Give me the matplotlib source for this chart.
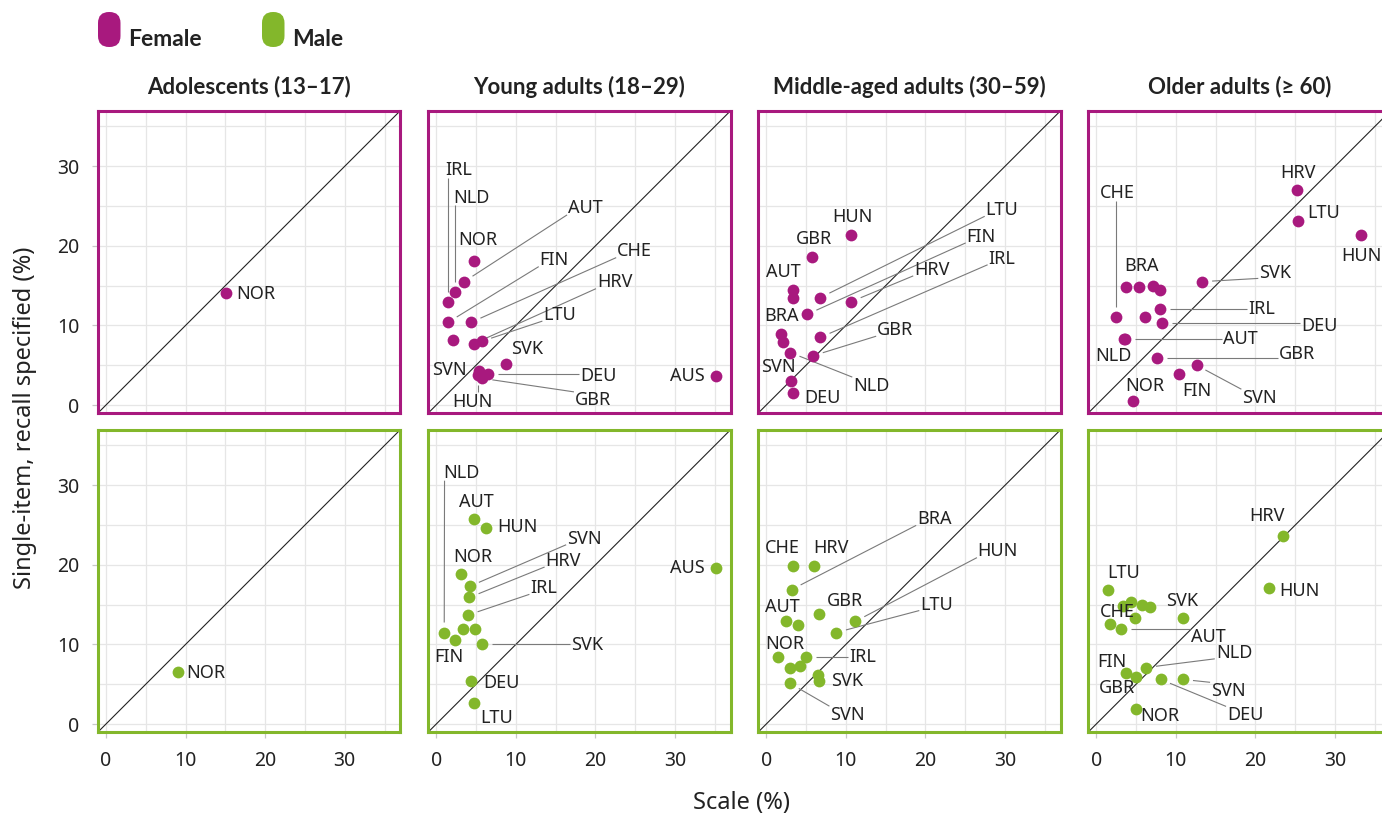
import matplotlib
matplotlib.use('Agg')
import matplotlib.pyplot as plt
from matplotlib.patches import FancyBboxPatch
import numpy as np

plt.rcParams['font.family'] = ['Noto Sans', 'DejaVu Sans']
BOLD_FAMILY = ['Lato', 'DejaVu Sans']

FEMALE = '#A8197E'
MALE = '#83B72B'
TEXT = '#222222'

GROUP_TITLES = ['Adolescents (13\u201317)', 'Young adults (18\u201329)',
                'Middle-aged adults (30\u201359)', 'Older adults (\u2265 60)']

# ---- data: scale (%) vs single-item recall specified (%) ----
# '' = point drawn without a label
f_ado_code = ['NOR']
f_ado_scale = [15.1]
f_ado_single = [14.1]

m_ado_code = ['NOR']
m_ado_scale = [9.0]
m_ado_single = [6.6]

f_ya_code = ['NOR', 'AUT', 'NLD', 'IRL', 'FIN', 'CHE', '', 'HRV', 'LTU', 'SVK',
             'SVN', 'HUN', 'DEU', 'GBR', 'AUS']
f_ya_scale = [4.7, 3.5, 2.4, 1.5, 1.5, 4.4, 2.1, 4.7, 5.7, 8.8,
              5.4, 5.2, 6.5, 5.8, 35.1]
f_ya_single = [18.1, 15.5, 14.2, 13.0, 10.4, 10.4, 8.2, 7.7, 8.0, 5.2,
               4.3, 3.8, 3.9, 3.35, 3.6]

m_ya_code = ['AUT', 'HUN', 'NOR', 'SVN', 'HRV', 'IRL', 'NLD', '', '', 'FIN',
             'SVK', 'DEU', 'LTU', 'AUS']
m_ya_scale = [4.7, 6.3, 3.1, 4.2, 4.15, 4.0, 1.0, 3.3, 4.85, 2.3,
              5.7, 4.4, 4.7, 35.1]
m_ya_single = [25.75, 24.6, 18.9, 17.3, 15.9, 13.7, 11.5, 11.9, 11.9, 10.55,
               10.1, 5.4, 2.7, 19.65]

f_ma_code = ['HUN', 'GBR', 'AUT', 'BRA', 'LTU', 'HRV', 'FIN', 'IRL', '', '',
             'NLD', 'GBR', 'SVN', 'DEU']
f_ma_scale = [10.6, 5.8, 3.4, 3.3, 6.8, 10.7, 5.15, 6.8, 1.85, 2.15,
              3.0, 5.9, 3.1, 3.3]
f_ma_single = [21.3, 18.6, 14.5, 13.5, 13.5, 13.0, 11.4, 8.5, 8.9, 7.9,
               6.6, 6.2, 3.0, 1.5]

m_ma_code = ['CHE', 'HRV', 'BRA', 'GBR', 'HUN', 'AUT', '', 'LTU', 'NOR', 'IRL',
             '', '', '', 'SVK', 'SVN']
m_ma_scale = [3.4, 6.0, 3.2, 6.6, 11.2, 2.5, 4.0, 8.8, 1.5, 4.95,
              3.0, 4.3, 6.5, 6.65, 3.0]
m_ma_single = [19.85, 19.85, 16.9, 13.8, 12.9, 13.0, 12.5, 11.5, 8.45, 8.45,
               7.0, 7.3, 6.2, 5.45, 5.1]

f_old_code = ['HRV', 'LTU', 'HUN', 'SVK', 'BRA', '', '', '', 'IRL', 'CHE',
              '', 'DEU', 'AUT', 'NLD', 'GBR', 'SVN', 'FIN', 'NOR']
f_old_scale = [25.2, 25.4, 33.2, 13.3, 5.4, 3.7, 7.1, 8.0, 8.0, 2.5,
               6.1, 8.3, 3.6, 3.5, 7.6, 12.6, 10.4, 4.65]
f_old_single = [27.0, 23.1, 21.3, 15.5, 14.8, 14.8, 15.0, 14.5, 12.1, 11.1,
                11.0, 10.3, 8.25, 8.3, 5.9, 5.0, 3.85, 0.5]

m_old_code = ['HRV', 'HUN', 'LTU', '', '', '', '', '', 'SVK', 'CHE',
              'AUT', 'NLD', 'FIN', 'GBR', 'DEU', 'SVN', 'NOR']
m_old_scale = [23.4, 21.7, 1.5, 3.4, 4.35, 5.8, 6.75, 4.85, 10.9, 1.7,
               3.1, 6.25, 3.7, 4.95, 8.1, 10.9, 4.95]
m_old_single = [23.6, 17.05, 16.9, 14.8, 15.3, 14.95, 14.65, 13.3, 13.3, 12.55,
                11.9, 7.1, 6.45, 5.95, 5.6, 5.6, 1.9]

# ---- label placement (repelled positions, leader line yes/no) ----
f_ado_lab = [(18.8, 13.9, False)]
m_ado_lab = [(12.6, 6.4, False)]
f_ya_lab = [(5.2, 20.7, False), (18.7, 24.7, True), (4.45, 26.0, True),
            (2.8, 29.5, True), (14.8, 18.2, True), (24.9, 19.3, True), None,
            (22.4, 15.4, True), (15.5, 11.3, True), (11.4, 7.1, False),
            (1.6, 4.4, False), (4.6, 0.4, True), (20.4, 3.6, True),
            (19.7, 0.6, True), (31.5, 3.6, False)]
m_ya_lab = [(5.1, 27.9, False), (10.2, 24.8, False), (4.6, 21.0, False),
            (18.6, 23.3, True), (15.95, 20.5, True), (13.5, 17.05, True),
            (3.2, 31.5, True), None, None, (1.6, 8.4, False),
            (18.9, 9.9, True), (8.2, 5.1, False), (7.6, 0.7, False),
            (31.5, 19.65, False)]
f_ma_lab = [(10.85, 23.6, False), (6.0, 20.9, False), (2.1, 16.75, False),
            (1.9, 11.2, False), (29.6, 24.5, True), (20.8, 17.0, True),
            (27.0, 21.15, True), (29.6, 18.4, True), None, None,
            (13.2, 2.4, True), (16.2, 9.4, True), (1.5, 4.8, False),
            (7.0, 0.85, False)]
m_ma_lab = [(2.0, 22.1, False), (8.1, 22.1, False), (21.1, 25.75, True),
            (9.9, 15.5, False), (29.1, 21.7, True), (2.0, 14.7, False), None,
            (21.4, 15.0, True), (2.35, 10.0, False), (12.1, 8.4, True),
            None, None, None, (10.2, 5.45, False), (10.2, 1.1, True)]
f_old_lab = [(25.4, 29.2, False), (28.6, 24.1, False), (33.3, 18.7, False),
             (22.5, 16.6, True), (5.7, 17.5, False), None, None, None,
             (20.8, 12.1, True), (2.6, 26.6, True), None, (28.0, 9.9, True),
             (18.05, 8.25, True), (2.1, 6.2, False), (25.2, 6.4, True),
             (20.5, 0.85, True), (12.7, 1.8, False), (6.1, 2.4, False)]
m_old_lab = [(21.4, 26.1, False), (25.5, 16.75, False), (3.4, 19.0, False),
             None, None, None, None, None, (10.8, 15.5, False),
             (2.6, 14.1, False), (14.1, 10.9, True), (17.3, 8.9, True),
             (2.0, 7.8, False), (2.6, 4.5, False), (18.7, 1.1, True),
             (16.6, 4.2, True), (8.0, 1.0, False)]

PANELS = [
    [(f_ado_code, f_ado_scale, f_ado_single, f_ado_lab),
     (f_ya_code, f_ya_scale, f_ya_single, f_ya_lab),
     (f_ma_code, f_ma_scale, f_ma_single, f_ma_lab),
     (f_old_code, f_old_scale, f_old_single, f_old_lab)],
    [(m_ado_code, m_ado_scale, m_ado_single, m_ado_lab),
     (m_ya_code, m_ya_scale, m_ya_single, m_ya_lab),
     (m_ma_code, m_ma_scale, m_ma_single, m_ma_lab),
     (m_old_code, m_old_scale, m_old_single, m_old_lab)],
]
ROW_COLORS = [FEMALE, MALE]

W, H = 1382, 818
fig = plt.figure(figsize=(W / 100, H / 100), dpi=100)

LIM = (-1.0, 37.0)
PX_PER_UNIT = 7.96
SIDE = (LIM[1] - LIM[0]) * PX_PER_UNIT
COL_LEFT = [98.0, 428.3, 758.3, 1088.3]
ROW_BOTTOM = [413.0, 732.0]
LABEL_FS = 13

leaders = []
for r in range(2):
    color = ROW_COLORS[r]
    for c in range(4):
        codes, xs, ys, labs = PANELS[r][c]
        ax = fig.add_axes([COL_LEFT[c] / W, 1 - ROW_BOTTOM[r] / H, SIDE / W, SIDE / H])
        ax.set_xlim(*LIM)
        ax.set_ylim(*LIM)
        ax.set_xticks([0, 10, 20, 30])
        ax.set_yticks([0, 10, 20, 30])
        ax.set_xticks([5, 15, 25, 35], minor=True)
        ax.set_yticks([5, 15, 25, 35], minor=True)
        ax.grid(which='both', color='#e6e6e6', lw=0.9)
        ax.set_axisbelow(True)
        ax.tick_params(which='both', length=0, labelleft=False, labelbottom=False,
                       labelsize=14, labelcolor=TEXT)
        if c == 0:
            ax.tick_params(axis='y', which='major', length=4.5, width=0.9,
                           color='#c8c8c8', labelleft=True, pad=9)
        if r == 1:
            ax.tick_params(axis='x', which='major', length=4.5, width=0.9,
                           color='#c8c8c8', labelbottom=True, pad=9)
        for sp in ax.spines.values():
            sp.set_color(color)
            sp.set_linewidth(2.2)
            sp.set_zorder(6)
        ax.axline((0, 0), slope=1, color='#222222', lw=0.8, zorder=2)
        ax.scatter(xs, ys, s=72, color=color, linewidths=0, zorder=4)
        for code, x, y, lab in zip(codes, xs, ys, labs):
            if not code or lab is None:
                continue
            lx, ly, lead = lab
            t = ax.text(lx, ly, code, ha='center', va='center', fontsize=LABEL_FS,
                        color=TEXT, zorder=5, clip_on=False)
            if lead:
                leaders.append((ax, t, x, y))
        if r == 0:
            ax.set_title(GROUP_TITLES[c], fontsize=16, fontweight='bold',
                         family=BOLD_FAMILY, color=TEXT, pad=12)

# leader lines: from nearest point of the label box to the point
fig.canvas.draw()
renderer = fig.canvas.get_renderer()
fs_px = LABEL_FS * 100 / 72
for ax, t, x, y in leaders:
    bb = t.get_window_extent(renderer)
    x0, x1 = bb.x0 + 1, bb.x1 - 1
    y0, y1 = bb.y0 + 0.2 * fs_px, bb.y1 - 0.05 * fs_px
    p = ax.transData.transform((x, y))
    s = np.array([np.clip(p[0], x0, x1), np.clip(p[1], y0, y1)])
    d = p - s
    dist = np.hypot(*d)
    if dist < 12:
        continue
    e = p - d / dist * 10
    s = s + d / dist * 2
    inv = ax.transData.inverted()
    sd, ed = inv.transform(s), inv.transform(e)
    ax.plot([sd[0], ed[0]], [sd[1], ed[1]], color='#7a7a7a', lw=0.8, zorder=3,
            solid_capstyle='butt')

# legend (top left) on a pixel overlay
ov = fig.add_axes([0, 0, 1, 1], zorder=10)
ov.set_xlim(0, W)
ov.set_ylim(H, 0)
ov.axis('off')
for (px, name, col) in [(98, 'Female', FEMALE), (262, 'Male', MALE)]:
    ov.add_patch(FancyBboxPatch((px, 12), 22.5, 35,
                                boxstyle='round,pad=0,rounding_size=11',
                                fc=col, ec='none'))
    ov.text(px + 30, 46, name, fontsize=16.5, fontweight='bold', family=BOLD_FAMILY,
            color=TEXT, va='baseline', ha='left')

ov.text(25, 418, 'Single-item, recall specified (%)', rotation=90, fontsize=17,
        color=TEXT, ha='center', va='center')
ov.text(742, 803, 'Scale (%)', fontsize=17, color=TEXT, ha='center', va='center')

fig.savefig('out.png', dpi=100)
